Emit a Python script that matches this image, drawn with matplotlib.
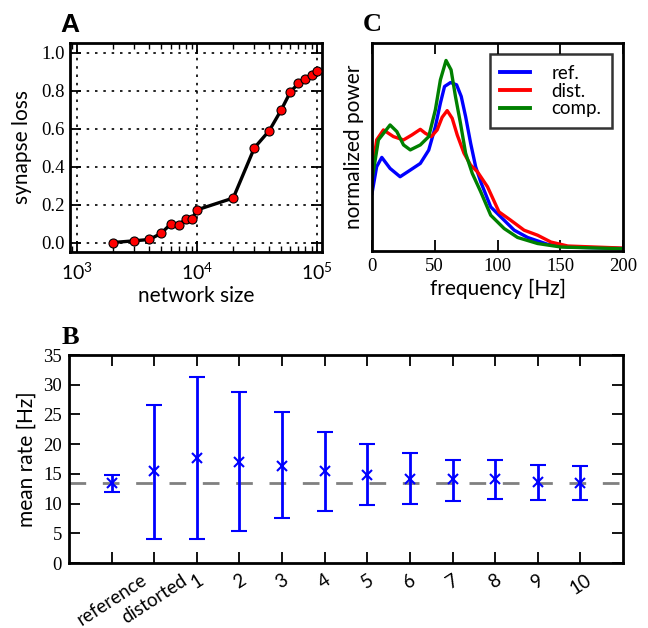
import numpy as np
import matplotlib
matplotlib.use("Agg")
import matplotlib.pyplot as plt
from matplotlib.ticker import LogFormatterMathtext

plt.rcParams['font.family'] = ['Lato', 'DejaVu Sans']
plt.rcParams['mathtext.fontset'] = 'stix'
plt.rcParams['xtick.direction'] = 'in'
plt.rcParams['ytick.direction'] = 'in'
plt.rcParams['xtick.top'] = True
plt.rcParams['ytick.right'] = True

# panel A: synapse loss vs network size
net_size = [2000, 3000, 4000, 5000, 6000, 7000, 8000, 9000, 10000,
            20000, 30000, 40000, 50000, 60000, 70000, 80000, 90000, 100000]
syn_loss = [0.0, 0.009, 0.016, 0.048, 0.096, 0.093, 0.122, 0.122, 0.172,
            0.234, 0.498, 0.589, 0.695, 0.793, 0.837, 0.863, 0.881, 0.904]

# panel C: power spectra (normalized)
freq_ref = [0, 3.7, 7.8, 14.4, 22.4, 30.5, 38.5, 45.2, 50.5, 54.5, 57.8,
            62.6, 67.4, 71.1, 74.6, 78.6, 82.6, 86.6, 94.6, 102.6, 113.3,
            124, 140, 156, 200]
pow_ref = [0.277, 0.405, 0.450, 0.397, 0.357, 0.389, 0.421, 0.485, 0.598,
           0.711, 0.791, 0.810, 0.799, 0.743, 0.646, 0.518, 0.405, 0.333,
           0.212, 0.164, 0.1, 0.065, 0.032, 0.019, 0.012]
freq_dist = [0, 3.7, 9.1, 17.1, 25.1, 31.8, 38.5, 42.5, 47.3, 51.9, 55.9,
             59.9, 63.9, 67.9, 73.3, 78.6, 84, 92, 101.2, 110.5, 121.2,
             131.9, 142.6, 156, 200]
pow_dist = [0.373, 0.534, 0.582, 0.550, 0.534, 0.558, 0.585, 0.566, 0.550,
            0.582, 0.643, 0.675, 0.638, 0.558, 0.470, 0.413, 0.381, 0.309,
            0.188, 0.148, 0.1, 0.076, 0.043, 0.024, 0.014]
freq_comp = [0, 5.1, 14.4, 19.8, 25.1, 30.5, 38.5, 45.2, 50.5, 54.5, 59,
             63, 66.5, 70.5, 74.6, 79.9, 86.6, 94.6, 105.3, 116, 131.9,
             150.7, 200]
pow_comp = [0.341, 0.534, 0.606, 0.574, 0.510, 0.486, 0.510, 0.550, 0.679,
            0.823, 0.916, 0.871, 0.743, 0.614, 0.470, 0.373, 0.285, 0.172,
            0.108, 0.065, 0.036, 0.019, 0.011]

# panel B: mean rates
conditions = ['reference', 'distorted', '1', '2', '3', '4', '5', '6', '7',
              '8', '9', '10']
rate_mean = [13.5, 15.4, 17.6, 17.05, 16.4, 15.5, 14.85, 14.2, 14.06, 14.2,
             13.55, 13.5]
rate_low = [11.9, 4.1, 4.0, 5.36, 7.5, 8.75, 9.7, 9.9, 10.4, 10.7, 10.56, 10.6]
rate_high = [14.8, 26.65, 31.3, 28.8, 25.35, 22.0, 20.0, 18.5, 17.3, 17.35,
             16.55, 16.4]
ref_rate = 13.38

W, H = 648, 628
fig = plt.figure(figsize=(W / 100, H / 100), dpi=100)

tick_font = {'family': 'Liberation Serif', 'size': 13.5}


def style_axes(ax):
    for s in ax.spines.values():
        s.set_linewidth(2)
    ax.tick_params(which='major', length=8, width=1.3)
    ax.tick_params(which='minor', length=4, width=1.0)


# ---- A ----
axA = fig.add_axes([70 / W, 1 - 252 / H, 252 / W, 209 / H])
axA.plot(net_size, syn_loss, '-', color='black', lw=2.4, zorder=3)
axA.plot(net_size, syn_loss, 'o', mfc='red', mec='black', mew=0.8, ms=6.5,
         zorder=4)
axA.set_xscale('log')
axA.set_xlim(870, 1.1e5)
axA.set_ylim(-0.05, 1.05)
axA.set_yticks(np.arange(0, 1.01, 0.2))
axA.set_yticklabels(['%.1f' % v for v in np.arange(0, 1.01, 0.2)], fontdict=tick_font)
axA.xaxis.set_major_formatter(LogFormatterMathtext())
axA.grid(True, which='major', color='black', lw=1.2, linestyle=(0, (1.5, 3.5)))
style_axes(axA)
axA.tick_params(axis='x', which='major', pad=7, labelsize=14)
axA.tick_params(axis='y', pad=4)
axA.set_xlabel('network size', fontsize=15)
axA.set_ylabel('synapse loss', fontsize=15)
axA.xaxis.set_label_coords(0.5, -0.165)
axA.yaxis.set_label_coords(-0.15, 0.5)

# ---- C ----
axC = fig.add_axes([372 / W, 1 - 251 / H, 251 / W, 208 / H])
axC.plot(freq_ref, pow_ref, color='blue', lw=2.4, label='ref.',
         solid_joinstyle='round')
axC.plot(freq_dist, pow_dist, color='red', lw=2.4, label='dist.',
         solid_joinstyle='round')
axC.plot(freq_comp, pow_comp, color='green', lw=2.4, label='comp.',
         solid_joinstyle='round')
axC.set_xlim(0, 200)
axC.set_ylim(0, 1)
axC.set_xticks([0, 50, 100, 150, 200])
axC.set_xticklabels(['0', '50', '100', '150', '200'], fontdict=tick_font)
axC.set_yticks([])
style_axes(axC)
axC.tick_params(axis='x', pad=5)
axC.set_xlabel('frequency [Hz]', fontsize=15)
axC.set_ylabel('normalized power', fontsize=15)
axC.xaxis.set_label_coords(0.5, -0.135)
axC.yaxis.set_label_coords(-0.03, 0.5)
leg = axC.legend(loc='upper right', fontsize=13.5, handlelength=1.6,
                 handletextpad=1.15, borderaxespad=0.6, fancybox=False,
                 labelspacing=0.05, borderpad=0.55)
leg.get_frame().set_edgecolor('black')
leg.get_frame().set_linewidth(1.8)
for line in leg.get_lines():
    line.set_linewidth(2.8)

# ---- B ----
axB = fig.add_axes([69 / W, 1 - 563 / H, 554 / W, 208 / H])
xpos = np.arange(len(conditions))
mean = np.array(rate_mean)
yerr = [mean - np.array(rate_low), np.array(rate_high) - mean]
axB.axhline(ref_rate, color='0.5', lw=2, dashes=(6, 6), zorder=1)
axB.errorbar(xpos, mean, yerr=yerr, fmt='x', color='blue', ms=7, mew=1.5,
             elinewidth=2, capsize=6, capthick=2, zorder=3)
axB.set_xlim(-1, 12)
axB.set_ylim(0, 35)
axB.set_yticks(range(0, 36, 5))
axB.set_yticklabels([str(v) for v in range(0, 36, 5)], fontdict=tick_font)
axB.set_xticks(xpos)
axB.set_xticklabels(conditions, rotation=33, ha='center', fontsize=13.5)
style_axes(axB)
axB.tick_params(axis='y', pad=5)
axB.tick_params(axis='x', pad=6)
axB.set_ylabel('mean rate [Hz]', fontsize=15)
axB.yaxis.set_label_coords(-0.058, 0.5)

# panel letters
fig.text(60 / W, 1 - 32 / H, 'A', fontsize=19, fontweight='bold',
         family='Liberation Sans')
fig.text(363 / W, 1 - 31 / H, 'C', fontsize=19, fontweight='bold',
         family='Liberation Serif')
fig.text(62 / W, 1 - 344 / H, 'B', fontsize=19, fontweight='bold',
         family='Liberation Serif')

fig.savefig('out.png', dpi=100)
